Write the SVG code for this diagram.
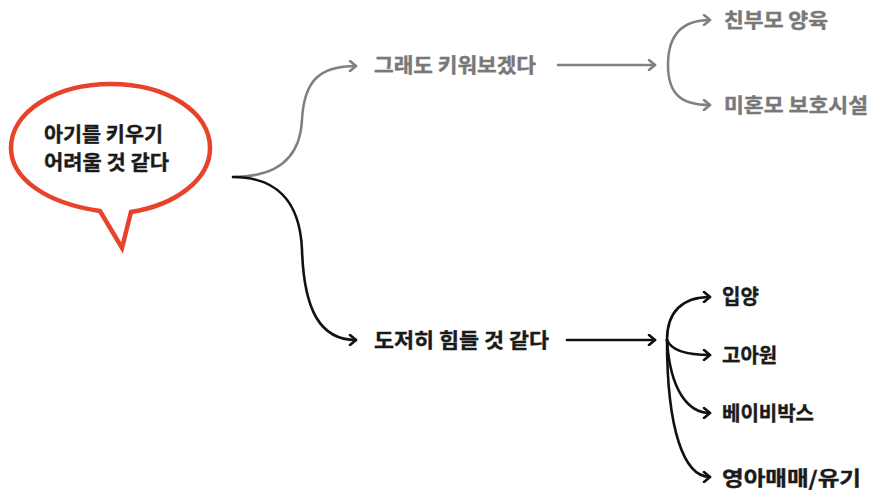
<svg xmlns="http://www.w3.org/2000/svg" width="871" height="492" viewBox="0 0 871 492">
<style>
  text { font-family: "Noto Sans CJK KR", "Noto Sans", sans-serif; font-weight: 700; font-size: 20px; stroke-width: 0.4; }
  .gt { fill: #787878; stroke: #787878; }
  .bt { fill: #1a1a1a; stroke: #1a1a1a; }
  .gl { fill: none; stroke: #808080; stroke-width: 2.5; stroke-linecap: round; }
  .bl { fill: none; stroke: #111; stroke-width: 2.6; stroke-linecap: round; }
</style>
<defs>
  <marker id="ag" viewBox="0 0 10 12" refX="8" refY="6" markerWidth="10" markerHeight="12" markerUnits="userSpaceOnUse" orient="auto">
    <path d="M2,1 L8,6 L2,11" fill="none" stroke="#808080" stroke-width="2.5" stroke-linecap="round" stroke-linejoin="round"/>
  </marker>
  <marker id="ab" viewBox="0 0 10 12" refX="8" refY="6" markerWidth="10" markerHeight="12" markerUnits="userSpaceOnUse" orient="auto">
    <path d="M2,1 L8,6 L2,11" fill="none" stroke="#111" stroke-width="2.6" stroke-linecap="round" stroke-linejoin="round"/>
  </marker>
</defs>
<rect width="871" height="492" fill="#fff"/>

<g id="connectors">
  <path class="gl" d="M233,177 C275,177 300,160 302,120 C304,80 320,66 356,66" marker-end="url(#ag)"/>
  <path class="bl" d="M233,177 C275,177 300,200 302,250 C304,310 320,340 356,340" marker-end="url(#ab)"/>
  <path class="gl" d="M558,65 L655,65" marker-end="url(#ag)"/>
  <path class="gl" d="M668,65 C668,35 682,20 710,20" marker-end="url(#ag)"/>
  <path class="gl" d="M668,65 C668,95 682,105 710,105" marker-end="url(#ag)"/>
  <path class="bl" d="M567,340 L655,340" marker-end="url(#ab)"/>
  <path class="bl" d="M667,340 C667,312 682,297 710,297" marker-end="url(#ab)"/>
  <path class="bl" d="M667,340 C672,352 690,355 710,355" marker-end="url(#ab)"/>
  <path class="bl" d="M667,340 C670,390 688,413 710,413" marker-end="url(#ab)"/>
  <path class="bl" d="M667,340 C667,430 684,477 710,477" marker-end="url(#ab)"/>
</g>

<g id="bubble">
  <path d="M100,211 C45,203 11,178 11,148 C11,112 55,84 111,84 C167,84 210,112 210,148 C210,180 175,205 131,212 L122,248 Z" fill="#fff" stroke="#e8432a" stroke-width="4.5" stroke-linejoin="miter"/>
  <text class="bt" x="44" y="142" textLength="119" lengthAdjust="spacingAndGlyphs">아기를 키우기</text>
  <text class="bt" x="44" y="170" textLength="125" lengthAdjust="spacingAndGlyphs">어려울 것 같다</text>
</g>

<g id="n-try">
  <text class="gt" x="374" y="73" textLength="162" lengthAdjust="spacingAndGlyphs">그래도 키워보겠다</text>
</g>
<g id="n-parent">
  <text class="gt" x="724" y="28" textLength="104" lengthAdjust="spacingAndGlyphs">친부모 양육</text>
</g>
<g id="n-shelter">
  <text class="gt" x="724" y="113" textLength="144" lengthAdjust="spacingAndGlyphs">미혼모 보호시설</text>
</g>
<g id="n-hard">
  <text class="bt" x="374" y="348" textLength="175" lengthAdjust="spacingAndGlyphs">도저히 힘들 것 같다</text>
</g>
<g id="n-adopt">
  <text class="bt" x="722" y="304">입양</text>
</g>
<g id="n-orphan">
  <text class="bt" x="722" y="363">고아원</text>
</g>
<g id="n-babybox">
  <text class="bt" x="722" y="421">베이비박스</text>
</g>
<g id="n-sale">
  <text class="bt" x="722" y="486" textLength="139" lengthAdjust="spacingAndGlyphs">영아매매/유기</text>
</g>
</svg>
